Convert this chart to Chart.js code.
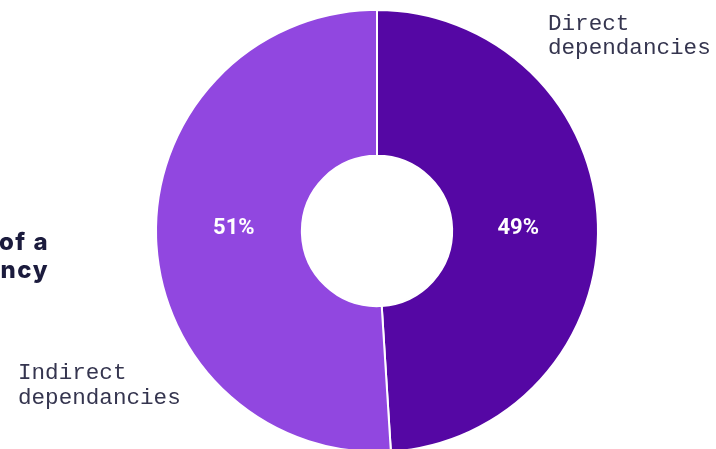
<!DOCTYPE html>
<html>
<head>
<meta charset="utf-8">
<script src="https://cdn.jsdelivr.net/npm/chart.js@4/dist/chart.umd.min.js"></script>
<style>
  html, body { margin: 0; padding: 0; background: #ffffff; overflow: hidden; width: 716px; height: 449px; }
  #wrap { position: relative; width: 716px; height: 470px; }
</style>
</head>
<body>
<div id="wrap"><canvas id="chart" width="716" height="470"></canvas></div>
<script>
// Share of dependencies by kind
const categories = ['Direct dependancies', 'Indirect dependancies'];
const shares = [49, 51];
const sliceColors = ['#5507a4', '#9147e0'];
const titleLines = ['Type of a', 'dependancy'];

const inkColor = '#35354f';

// Percentages on the ring, the category captions beside it and the title
const annotate = {
  id: 'annotate',
  afterDatasetsDraw(chart) {
    const ctx = chart.ctx;
    const arcs = chart.getDatasetMeta(0).data;
    ctx.save();

    // value labels placed a little inside the middle of each ring segment
    ctx.fillStyle = '#ffffff';
    ctx.font = 'bold 22px Roboto, "Noto Sans", sans-serif';
    ctx.textAlign = 'center';
    ctx.textBaseline = 'middle';
    arcs.forEach((arc, i) => {
      const { startAngle, endAngle, innerRadius, outerRadius } = arc.getProps(['startAngle', 'endAngle', 'innerRadius', 'outerRadius']);
      const mid = (startAngle + endAngle) / 2;
      const r = innerRadius + 0.46 * (outerRadius - innerRadius);
      ctx.fillText(shares[i] + '%', arc.x + Math.cos(mid) * r - 1, arc.y - 3);
    });

    // category captions
    ctx.fillStyle = inkColor;
    ctx.font = '22.6px "Liberation Mono", "DejaVu Sans Mono", monospace';
    ctx.textAlign = 'left';
    ctx.textBaseline = 'alphabetic';
    const [d1, d2] = categories[0].split(' ');
    ctx.fillText(d1, 548, 30);
    ctx.fillText(d2, 548, 54);
    const [i1, i2] = categories[1].split(' ');
    ctx.fillText(i1, 18, 379);
    ctx.fillText(i2, 18, 404);

    // title, right-aligned and partly off the left edge
    ctx.fillStyle = '#1b1b3d';
    ctx.font = '800 24px Inter, "Noto Sans", sans-serif';
    if ('letterSpacing' in ctx) ctx.letterSpacing = '1.5px';
    ctx.textAlign = 'right';
    ctx.fillText(titleLines[0], 49, 250);
    ctx.fillText(titleLines[1], 49, 278);

    ctx.restore();
  }
};

new Chart(document.getElementById('chart'), {
  type: 'doughnut',
  data: {
    labels: categories,
    datasets: [{
      data: shares,
      backgroundColor: sliceColors,
      borderColor: '#ffffff',
      borderWidth: 2
    }]
  },
  options: {
    responsive: false,
    animation: false,
    cutout: '34%',
    layout: { padding: { left: 155, right: 117, top: 9, bottom: 17 } },
    plugins: {
      legend: { display: false },
      tooltip: { enabled: false },
      title: { display: false }
    }
  },
  plugins: [annotate]
});
</script>
</body>
</html>
